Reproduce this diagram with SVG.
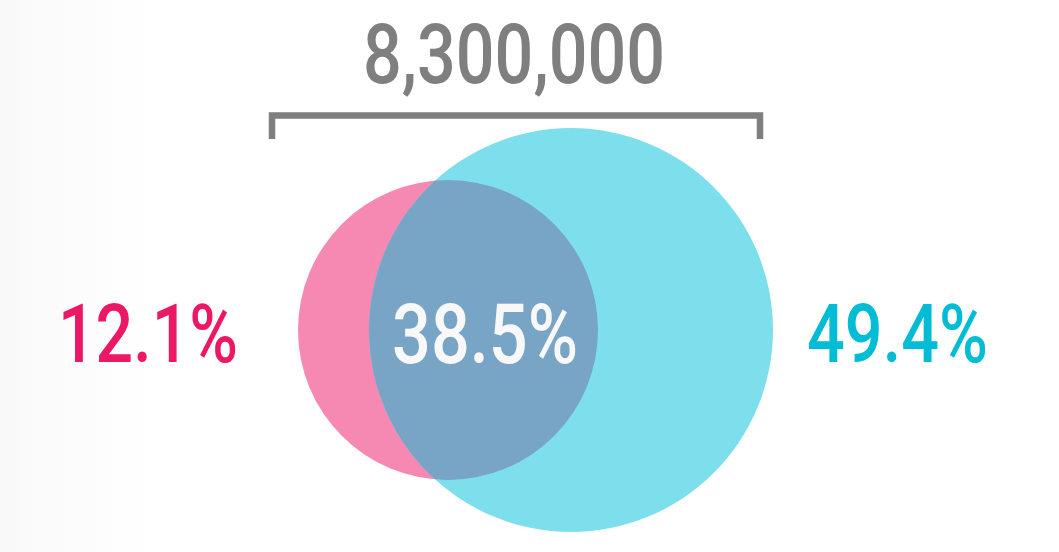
<svg xmlns="http://www.w3.org/2000/svg" width="1059" height="552" viewBox="0 0 1059 552">
<defs>
<linearGradient id="bg" x1="0" y1="0" x2="1" y2="0">
<stop offset="0" stop-color="#f9f9f9"/>
<stop offset="0.15" stop-color="#ffffff"/>
</linearGradient>
<clipPath id="clipCyan"><circle cx="571" cy="330" r="202"/></clipPath>
<style>
.lbl{font-family:Roboto,"Liberation Sans",sans-serif;text-anchor:start;font-weight:500}
.big{font-size:84px}
.side{font-size:81px}
.br{fill:none;stroke:#7f7f7f;stroke-width:6.5}
</style>
</defs>
<rect width="1059" height="552" fill="url(#bg)"/>
<g id="connectors">
<path class="br" d="M272 139 V115.5 H760 V139"/>
</g>
<g id="total">
<text class="lbl big" x="363" y="83" fill="#7f7f7f" textLength="302" lengthAdjust="spacingAndGlyphs">8,300,000</text>
</g>
<g id="setA">
<circle cx="448" cy="330" r="150" fill="#f589b2"/>
</g>
<g id="setB">
<circle cx="571" cy="330" r="202" fill="#7ddfeb"/>
</g>
<g id="overlap">
<circle cx="448" cy="330" r="150" fill="#78a4c6" clip-path="url(#clipCyan)"/>
<text class="lbl big" x="392" y="363" fill="#f8f8f8" textLength="186" lengthAdjust="spacingAndGlyphs">38.5%</text>
</g>
<g id="labelA">
<text class="lbl side" x="58" y="362" fill="#ec1866" textLength="180" lengthAdjust="spacingAndGlyphs">12.1%</text>
</g>
<g id="labelB">
<text class="lbl side" x="807" y="362" fill="#00bcd4" textLength="181" lengthAdjust="spacingAndGlyphs">49.4%</text>
</g>
</svg>
